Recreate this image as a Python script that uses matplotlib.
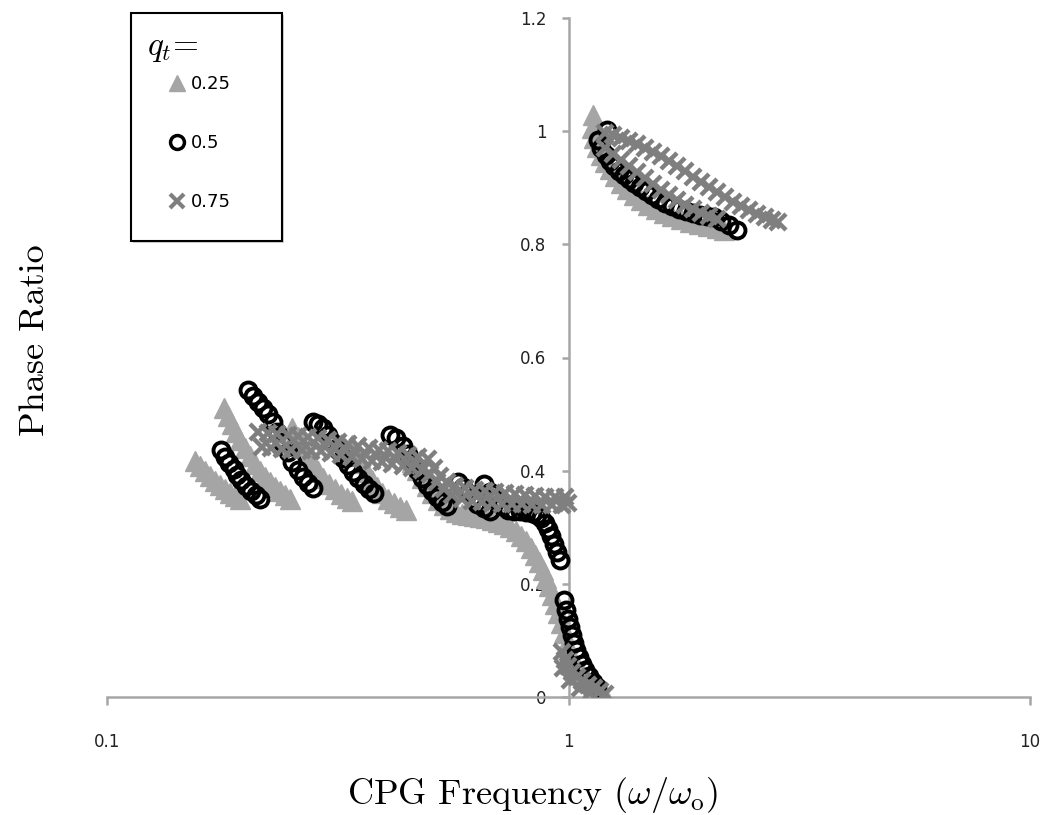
import matplotlib
matplotlib.use("Agg")
import matplotlib.pyplot as plt
from matplotlib.lines import Line2D
from matplotlib.patches import Rectangle
from matplotlib.ticker import FixedLocator, FuncFormatter, NullLocator

# ---------------- data ----------------
# q_t = 0.25 (grey triangles)
q025_x = [0.155, 0.159, 0.163, 0.167, 0.171, 0.176, 0.180, 0.185, 0.189, 0.194,
          0.179, 0.183, 0.187, 0.190, 0.194, 0.199, 0.204, 0.209, 0.215, 0.220,
          0.226, 0.231, 0.237, 0.243, 0.249,
          0.252, 0.259, 0.266, 0.273, 0.280, 0.286, 0.294, 0.303, 0.312, 0.321,
          0.331, 0.339,
          0.339, 0.348, 0.357, 0.366, 0.376, 0.385, 0.394, 0.406, 0.419, 0.431, 0.444,
          0.458, 0.470, 0.482, 0.493, 0.506, 0.521, 0.537, 0.554, 0.570, 0.588,
          0.606, 0.624, 0.643, 0.662, 0.682, 0.703, 0.724, 0.747, 0.770, 0.789,
          0.809, 0.830, 0.846, 0.864, 0.880, 0.894, 0.907, 0.921, 0.935, 0.949,
          0.963, 0.978, 0.993, 1.008, 1.028, 1.049, 1.075, 1.102, 1.130, 1.158, 1.194,
          1.130, 1.124, 1.135, 1.152, 1.176, 1.200, 1.230, 1.261, 1.300, 1.339,
          1.387, 1.436, 1.487, 1.548, 1.611, 1.677, 1.754, 1.834, 1.918, 2.006,
          2.099, 2.173]
q025_y = [0.417, 0.408, 0.399, 0.390, 0.382, 0.375, 0.367, 0.360, 0.355, 0.350,
          0.511, 0.496, 0.482, 0.468, 0.454, 0.440, 0.426, 0.412, 0.399, 0.389,
          0.380, 0.371, 0.364, 0.357, 0.350,
          0.475, 0.459, 0.443, 0.428, 0.413, 0.399, 0.387, 0.376, 0.367, 0.359,
          0.352, 0.346,
          0.445, 0.429, 0.413, 0.398, 0.383, 0.371, 0.360, 0.350, 0.343, 0.336, 0.330,
          0.415, 0.401, 0.387, 0.373, 0.360, 0.348, 0.339, 0.332, 0.327, 0.323,
          0.322, 0.320, 0.318, 0.316, 0.313, 0.309, 0.306, 0.300, 0.293, 0.284,
          0.276, 0.263, 0.251, 0.239, 0.224, 0.210, 0.196, 0.180, 0.164, 0.148,
          0.131, 0.113, 0.095, 0.080, 0.064, 0.051, 0.039, 0.028, 0.019, 0.012, 0.005,
          1.028, 1.005, 0.988, 0.972, 0.958, 0.945, 0.933, 0.920, 0.908, 0.898,
          0.887, 0.878, 0.869, 0.862, 0.855, 0.850, 0.845, 0.839, 0.836, 0.832,
          0.829, 0.825]

# q_t = 0.5 (black open circles)
q05_x = [0.177, 0.180, 0.184, 0.188, 0.191, 0.195, 0.200, 0.205, 0.210, 0.215,
         0.202, 0.207, 0.212, 0.218, 0.223, 0.229, 0.234, 0.240, 0.247, 0.252,
         0.259, 0.266, 0.273, 0.280,
         0.280, 0.286, 0.294, 0.301, 0.308, 0.316, 0.324, 0.333, 0.341, 0.350,
         0.360, 0.369, 0.379,
         0.410, 0.423, 0.437, 0.449, 0.458, 0.470, 0.482, 0.493, 0.506, 0.519,
         0.532, 0.545,
         0.576, 0.591, 0.606, 0.620, 0.635, 0.656, 0.676,
         0.656, 0.676, 0.696, 0.717, 0.739, 0.762, 0.785, 0.809, 0.834, 0.855,
         0.872, 0.889, 0.903, 0.917, 0.930, 0.944, 0.958,
         0.978, 0.988, 0.998, 1.008, 1.018, 1.028, 1.038, 1.054, 1.070, 1.086,
         1.108, 1.130, 1.152,
         1.158, 1.212, 1.176, 1.206, 1.230, 1.254, 1.287, 1.319, 1.353, 1.387,
         1.429, 1.472, 1.516, 1.563, 1.619, 1.677, 1.736, 1.798, 1.862, 1.928,
         1.996, 2.066, 2.141, 2.228, 2.319]
q05_y = [0.436, 0.424, 0.413, 0.403, 0.392, 0.383, 0.373, 0.364, 0.357, 0.350,
         0.542, 0.532, 0.521, 0.511, 0.500, 0.486, 0.468, 0.451, 0.433, 0.415,
         0.401, 0.389, 0.378, 0.369,
         0.486, 0.482, 0.475, 0.463, 0.451, 0.436, 0.422, 0.410, 0.398, 0.387,
         0.376, 0.367, 0.360,
         0.463, 0.458, 0.443, 0.429, 0.415, 0.401, 0.387, 0.375, 0.364, 0.353,
         0.345, 0.337,
         0.380, 0.371, 0.360, 0.350, 0.341, 0.334, 0.329,
         0.376, 0.362, 0.348, 0.337, 0.330, 0.329, 0.329, 0.327, 0.325, 0.322,
         0.316, 0.307, 0.297, 0.284, 0.270, 0.256, 0.242,
         0.171, 0.154, 0.138, 0.124, 0.110, 0.095, 0.083, 0.071, 0.058, 0.048,
         0.037, 0.027, 0.018,
         0.984, 1.002, 0.970, 0.958, 0.947, 0.938, 0.929, 0.922, 0.915, 0.908,
         0.901, 0.894, 0.887, 0.880, 0.873, 0.867, 0.862, 0.859, 0.855, 0.852,
         0.850, 0.848, 0.841, 0.834, 0.825]

# q_t = 0.75 (grey crosses)
q075_x = [0.212, 0.223, 0.234, 0.247, 0.259, 0.273, 0.286, 0.301, 0.316, 0.333,
          0.350, 0.369, 0.388, 0.406, 0.427, 0.449, 0.472, 0.496, 0.511, 0.527,
          0.545, 0.567, 0.597, 0.627, 0.659, 0.693, 0.728, 0.766, 0.805, 0.846,
          0.889, 0.935, 0.983,
          0.217, 0.227, 0.239, 0.251, 0.264, 0.277, 0.291, 0.306, 0.322, 0.339,
          0.357, 0.376, 0.394, 0.414, 0.437, 0.458, 0.482, 0.501, 0.519, 0.537,
          0.559, 0.588, 0.618, 0.649, 0.682, 0.717, 0.754, 0.793, 0.834, 0.876,
          0.921, 0.968, 0.998,
          0.968, 0.983, 0.998, 1.018, 1.044, 1.070, 1.102, 1.135, 1.170, 1.200,
          0.973, 1.008, 1.059, 1.113,
          1.200, 1.249, 1.300, 1.353, 1.408, 1.465, 1.524, 1.586, 1.651, 1.718,
          1.789, 1.862, 1.938, 2.016, 2.099, 2.184, 2.273, 2.365, 2.462, 2.562,
          2.667, 2.762, 2.846,
          1.200, 1.249, 1.300, 1.353, 1.408, 1.465, 1.524, 1.586, 1.651, 1.718,
          1.789, 1.862, 1.938, 2.016, 2.099]
q075_y = [0.468, 0.466, 0.465, 0.463, 0.461, 0.459, 0.458, 0.454, 0.451, 0.447,
          0.443, 0.440, 0.436, 0.435, 0.431, 0.428, 0.424, 0.420, 0.405, 0.390,
          0.380, 0.373, 0.369, 0.366, 0.364, 0.362, 0.360, 0.359, 0.357, 0.355,
          0.353, 0.353, 0.353,
          0.442, 0.440, 0.438, 0.436, 0.436, 0.435, 0.435, 0.431, 0.428, 0.424,
          0.420, 0.417, 0.415, 0.412, 0.408, 0.405, 0.401, 0.394, 0.380, 0.367,
          0.357, 0.350, 0.346, 0.345, 0.343, 0.341, 0.341, 0.341, 0.339, 0.339,
          0.339, 0.339, 0.343,
          0.080, 0.065, 0.055, 0.044, 0.035, 0.028, 0.021, 0.016, 0.011, 0.005,
          0.051, 0.030, 0.016, 0.007,
          0.996, 0.993, 0.988, 0.982, 0.977, 0.970, 0.963, 0.956, 0.947, 0.938,
          0.929, 0.919, 0.910, 0.901, 0.892, 0.883, 0.875, 0.867, 0.860, 0.853,
          0.848, 0.843, 0.839,
          0.970, 0.959, 0.949, 0.938, 0.928, 0.917, 0.906, 0.896, 0.887, 0.878,
          0.869, 0.862, 0.855, 0.850, 0.845]

series_labels = ["0.25", "0.5", "0.75"]
x_ticks = [0.1, 1, 10]
x_tick_labels = ["0.1", "1", "10"]
y_ticks = [0, 0.2, 0.4, 0.6, 0.8, 1.0, 1.2]

# ---------------- styling ----------------
W, H = 1044, 815
plt.rcParams["mathtext.fontset"] = "cm"
plt.rcParams["font.family"] = ["DejaVu Sans"]

C_TRI = "#a5a5a5"
C_X = "#7f7f7f"
C_AX = "#a6a6a6"

fig = plt.figure(figsize=(W / 100, H / 100), dpi=100)
ax = fig.add_axes([107 / W, 1 - 697 / H, (1030 - 107) / W, (697 - 18) / H])

ax.plot(q025_x, q025_y, ls="none", marker="^", ms=14, color=C_TRI, mec=C_TRI, zorder=3)
ax.plot(q05_x, q05_y, ls="none", marker="o", ms=11.5, mfc="none", mec="black", mew=2.8, zorder=4)
ax.plot(q075_x, q075_y, ls="none", marker="x", ms=12, mec=C_X, mew=3.2, zorder=5)

ax.set_xscale("log")
ax.set_xlim(0.1, 10)
ax.set_ylim(0, 1.2)

for s in ["top", "right"]:
    ax.spines[s].set_visible(False)
ax.spines["left"].set_position(("data", 1))
ax.spines["bottom"].set_position(("data", 0))
for s in ["left", "bottom"]:
    ax.spines[s].set_color(C_AX)
    ax.spines[s].set_linewidth(1.8)

ax.xaxis.set_major_locator(FixedLocator(x_ticks))
ax.xaxis.set_minor_locator(NullLocator())
ax.set_xticklabels(x_tick_labels)
ax.yaxis.set_major_locator(FixedLocator(y_ticks))
ax.yaxis.set_major_formatter(FuncFormatter(lambda v, _: f"{v:g}"))
ax.tick_params(axis="x", direction="out", length=6, width=1.8, color=C_AX,
               pad=20, labelsize=12, labelcolor="#222222")
ax.tick_params(axis="y", direction="out", length=5, width=1.8, color=C_AX,
               pad=11, labelsize=12, labelcolor="#222222")
ax.set_facecolor("none")

ax.set_xlabel(r"CPG Frequency $(\omega/\omega_\mathrm{o})$", family="cmr10",
              fontsize=26, va="center")
ax.xaxis.set_label_coords((533 - 107) / 923, (697 - 795) / 679)
ax.set_ylabel("Phase Ratio", family="cmr10", fontsize=26, va="center")
ax.yaxis.set_label_coords((35 - 107) / 923, (697 - 340) / 679)

# ---------------- legend ----------------
# frame (with a faint shadow) drawn as a fixed box, legend content placed inside
shadow = Rectangle((133 / W, 1 - 243 / H), 151 / W, 228 / H, transform=fig.transFigure,
                   facecolor="#d0d0d0", edgecolor="none", zorder=8, clip_on=False)
frame = Rectangle((131 / W, 1 - 241 / H), 151 / W, 228 / H, transform=fig.transFigure,
                  facecolor="white", edgecolor="black", lw=1.5, zorder=9, clip_on=False)
ax.add_artist(shadow)
ax.add_artist(frame)

handles = [
    Line2D([], [], ls="none", marker="^", ms=12, color=C_TRI, mec=C_TRI),
    Line2D([], [], ls="none", marker="o", ms=10, mfc="none", mec="black", mew=2.5),
    Line2D([], [], ls="none", marker="x", ms=10, mec=C_X, mew=3.0),
]
leg = ax.legend(handles, series_labels, loc="upper left",
                bbox_to_anchor=(131 / W, 1 - 16 / H),
                bbox_transform=fig.transFigure, borderaxespad=0,
                title=r"$q_t$=", title_fontsize=24, alignment="left",
                fontsize=13, handlelength=3.32, handletextpad=-0.89,
                labelspacing=2.27, borderpad=0.9, frameon=False)
leg.get_title().set_family("cmr10")
leg._legend_box.sep = 8
leg.set_zorder(10)

fig.savefig("out.png", dpi=100)
